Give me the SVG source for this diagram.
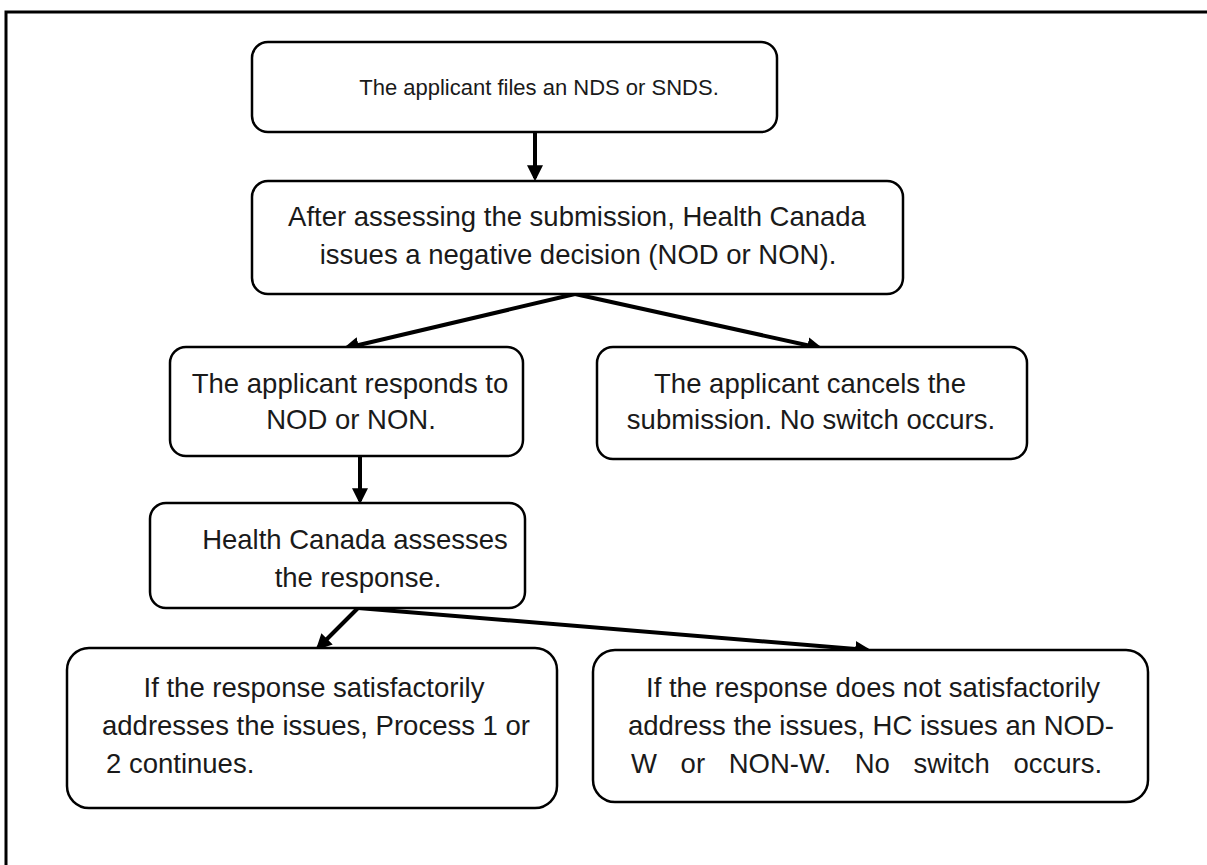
<svg xmlns="http://www.w3.org/2000/svg" width="1207" height="865" viewBox="0 0 1207 865">
<style>
.box{fill:#fff;stroke:#000;stroke-width:2.5}
.t{font-family:"Liberation Sans",Arial,sans-serif;font-size:27.5px;fill:#1a1a1a;text-anchor:middle}
.s{font-size:22px}
.c{stroke:#000;stroke-width:4;fill:none}
</style>
<defs>
<marker id="ah" markerWidth="4" markerHeight="4" refX="3.2" refY="2" orient="auto" markerUnits="strokeWidth">
<path d="M0,0 L4,2 L0,4 Z" fill="#000"/>
</marker>
</defs>
<rect width="1207" height="865" fill="#fff"/>
<path d="M6,865 V12 H1207" fill="none" stroke="#000" stroke-width="3"/>
<g id="connectors">
<line class="c" x1="535" y1="133" x2="535" y2="178" marker-end="url(#ah)"/>
<line class="c" x1="575" y1="294" x2="346" y2="348" marker-end="url(#ah)"/>
<line class="c" x1="575" y1="294" x2="820" y2="348" marker-end="url(#ah)"/>
<line class="c" x1="360" y1="457" x2="360" y2="501" marker-end="url(#ah)"/>
<line class="c" x1="358" y1="608" x2="318" y2="648" marker-end="url(#ah)"/>
<line class="c" x1="358" y1="608" x2="868" y2="650" marker-end="url(#ah)"/>
</g>
<g id="n1">
<rect class="box" x="252" y="42" width="525" height="90" rx="16"/>
<text class="t s" x="539" y="95">The applicant files an NDS or SNDS.</text>
</g>
<g id="n2">
<rect class="box" x="252" y="181" width="651" height="113" rx="16"/>
<text class="t" x="577" y="226">After assessing the submission, Health Canada</text>
<text class="t" x="578" y="264">issues a negative decision (NOD or NON).</text>
</g>
<g id="n3">
<rect class="box" x="170" y="347" width="353" height="109" rx="16"/>
<text class="t" x="350" y="393">The applicant responds to</text>
<text class="t" x="351" y="429">NOD or NON.</text>
</g>
<g id="n4">
<rect class="box" x="597" y="347" width="430" height="112" rx="16"/>
<text class="t" x="810" y="393">The applicant cancels the</text>
<text class="t" x="811" y="429">submission. No switch occurs.</text>
</g>
<g id="n5">
<rect class="box" x="150" y="503" width="375" height="105" rx="16"/>
<text class="t" x="355" y="549">Health Canada assesses</text>
<text class="t" x="358" y="587">the response.</text>
</g>
<g id="n6">
<rect class="box" x="67" y="648" width="490" height="160" rx="22"/>
<text class="t" x="314" y="697">If the response satisfactorily</text>
<text class="t" x="316" y="735">addresses the issues, Process 1 or</text>
<text class="t" x="106" y="773" style="text-anchor:start">2 continues.</text>
</g>
<g id="n7">
<rect class="box" x="593" y="650" width="555" height="152" rx="22"/>
<text class="t" x="873" y="697">If the response does not satisfactorily</text>
<text class="t" x="871" y="735">address the issues, HC issues an NOD-</text>
<text class="t" x="631" y="773" style="text-anchor:start;word-spacing:16px">W or NON-W. No switch occurs.</text>
</g>
</svg>
